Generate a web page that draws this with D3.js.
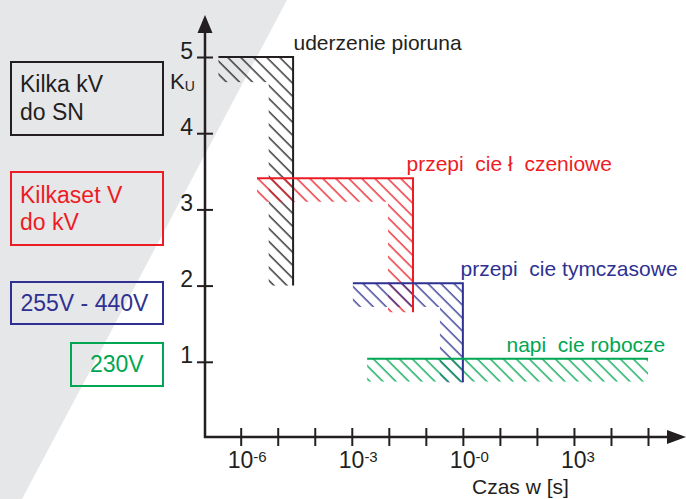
<!DOCTYPE html>
<html><head><meta charset="utf-8">
<script src="https://cdn.jsdelivr.net/npm/d3@7/dist/d3.min.js"></script>
<style>
body{margin:0;background:#fff;}
text{font-family:"Liberation Sans",Arial,Helvetica,sans-serif;white-space:pre;}
</style>
</head><body>
<svg id="chart" width="686" height="499"></svg>
<script>
// ---- data ----
const seriesNames = ["uderzenie pioruna", "przepi  cie ł  czeniowe", "przepi  cie tymczasowe", "napi  cie robocze"];
const tStart = [2.5e-7, 2.75e-6, 1.07e-3, 2.6e-3];   // seconds
const tEnd   = [2.6e-5, 0.045, 1, 1e5];
const tInner = [5.7e-6, 0.0095, 0.24, null];         // inner edge of vertical hatch band
const kTop    = [5, 3.41, 2.03, 1.04];
const kBottom = [2, 1.65, 0.73, null];
const kInner  = [4.67, 3.1, 1.72, 0.74];              // inner edge of horizontal hatch band
const xTickValues = [1e-6,1e-5,1e-4,1e-3,1e-2,1e-1,1e0,1e1,1e2,1e3,1e4,1e5];
const xLabelValues = [1e-6, 1e-3, 1e0, 1e3];
const xLabelExps = ["-6", "-3", "-0", "3"];
const yTickValues = [1, 2, 3, 4, 5];
const legendLines = [["Kilka kV", "do SN"], ["Kilkaset V", "do kV"], ["255V - 440V"], ["230V"]];

// ---- style / layout ----
const colors = ["#231f20", "#ed1c24", "#2e3192", "#00a651"];
const ink = "#231f20";
const labelPos = [[293.5, 50], [406.5, 171], [460.5, 276], [506.5, 352]];
const legendBoxes = [
  {x:11, y:62, w:152, h:73, tx:20, ty:[92,120]},
  {x:11, y:172, w:152, h:73, tx:20, ty:[203,230]},
  {x:11, y:282, w:152, h:42, tx:20.5, ty:[311]},
  {x:71, y:343, w:92, h:43, tx:90, ty:[372]}
];

const svg = d3.select("#chart");
const x = d3.scaleLog().domain([1e-6, 1e5]).range([240.7, 648]);
const y = d3.scaleLinear().domain([0, 5]).range([438, 57]);
const x0 = 205, y0 = 437;

// gray background wedge
svg.append("polygon").attr("points", "0,0 287,0 22,499 0,499").attr("fill", "#e6e7e9");

// hatch patterns
const defs = svg.append("defs");
colors.forEach((c, i) => {
  const p = defs.append("pattern").attr("id", "h" + i).attr("patternUnits", "userSpaceOnUse")
    .attr("width", 9.19).attr("height", 10).attr("patternTransform", "rotate(-45)");
  p.append("line").attr("x1", 1).attr("x2", 1).attr("y1", 0).attr("y2", 10)
    .attr("stroke", c).attr("stroke-width", 1.3);
});

// legend boxes
legendBoxes.forEach((b, i) => {
  svg.append("rect").attr("x", b.x).attr("y", b.y).attr("width", b.w).attr("height", b.h)
    .attr("fill", "none").attr("stroke", colors[i]).attr("stroke-width", 2);
  legendLines[i].forEach((t, j) => {
    svg.append("text").attr("x", b.tx).attr("y", b.ty[j]).attr("fill", colors[i])
      .attr("font-size", 23).text(t);
  });
});

// hatched regions
seriesNames.forEach((n, i) => {
  const g = svg.append("g").attr("fill", `url(#h${i})`);
  g.append("rect").attr("x", x(tStart[i])).attr("y", y(kTop[i]))
    .attr("width", x(tEnd[i]) - x(tStart[i])).attr("height", y(kInner[i]) - y(kTop[i]));
  if (tInner[i] !== null) {
    g.append("rect").attr("x", x(tInner[i])).attr("y", y(kInner[i]))
      .attr("width", x(tEnd[i]) - x(tInner[i])).attr("height", y(kBottom[i]) - y(kInner[i]));
  }
});

// outlines
seriesNames.forEach((n, i) => {
  const pts = [[x(tStart[i]), y(kTop[i])], [x(tEnd[i]), y(kTop[i])]];
  if (kBottom[i] !== null) pts.push([x(tEnd[i]), y(kBottom[i])]);
  svg.append("path").attr("d", d3.line()(pts)).attr("fill", "none")
    .attr("stroke", colors[i]).attr("stroke-width", 2);
});

// labels
seriesNames.forEach((n, i) => {
  svg.append("text").attr("x", labelPos[i][0]).attr("y", labelPos[i][1])
    .attr("fill", colors[i]).attr("font-size", 21).text(n);
});

// axes
const yAxis = svg.append("g").attr("transform", `translate(${x0},0)`)
  .call(d3.axisLeft(y).tickValues(yTickValues).tickSize(8).tickFormat(d3.format("d")));
yAxis.select(".domain").remove();
yAxis.selectAll(".tick line").attr("x1", 8).attr("x2", -8).attr("stroke", ink).attr("stroke-width", 2);
yAxis.selectAll(".tick text").attr("x", -12).attr("dy", null).attr("y", 1)
  .attr("font-size", 23).attr("fill", ink).attr("font-family", null);

const xAxis = svg.append("g").attr("transform", `translate(0,${y0})`)
  .call(d3.axisBottom(x).tickValues(xTickValues).tickSize(9).tickFormat(""));
xAxis.select(".domain").remove();
xAxis.selectAll(".tick line").attr("y1", -9).attr("y2", 9).attr("stroke", ink).attr("stroke-width", 2);

xLabelValues.forEach((v, i) => {
  const t = svg.append("text").attr("x", x(v) - 13).attr("y", 468).attr("fill", ink).attr("font-size", 23);
  t.append("tspan").text("10");
  t.append("tspan").attr("font-size", 15).attr("dy", -6).text(xLabelExps[i]);
});

// axis lines with arrows
svg.append("line").attr("x1", x0).attr("x2", x0).attr("y1", y0 + 1).attr("y2", 30)
  .attr("stroke", ink).attr("stroke-width", 2.5);
svg.append("polygon").attr("points", `${x0},15 ${x0-7.5},33 ${x0+7.5},33`).attr("fill", ink);
svg.append("line").attr("x1", x0 - 1).attr("x2", 670).attr("y1", y0).attr("y2", y0)
  .attr("stroke", ink).attr("stroke-width", 2.5);
svg.append("polygon").attr("points", `686,${y0} 667,${y0-7} 667,${y0+7}`).attr("fill", ink);

// axis titles
const ku = svg.append("text").attr("x", 170).attr("y", 89).attr("fill", ink).attr("font-size", 22);
ku.append("tspan").text("K");
ku.append("tspan").attr("font-size", 14).attr("dy", 2).text("U");
svg.append("text").attr("x", 472).attr("y", 494).attr("fill", ink).attr("font-size", 21).text("Czas w [s]");
</script>
</body></html>
